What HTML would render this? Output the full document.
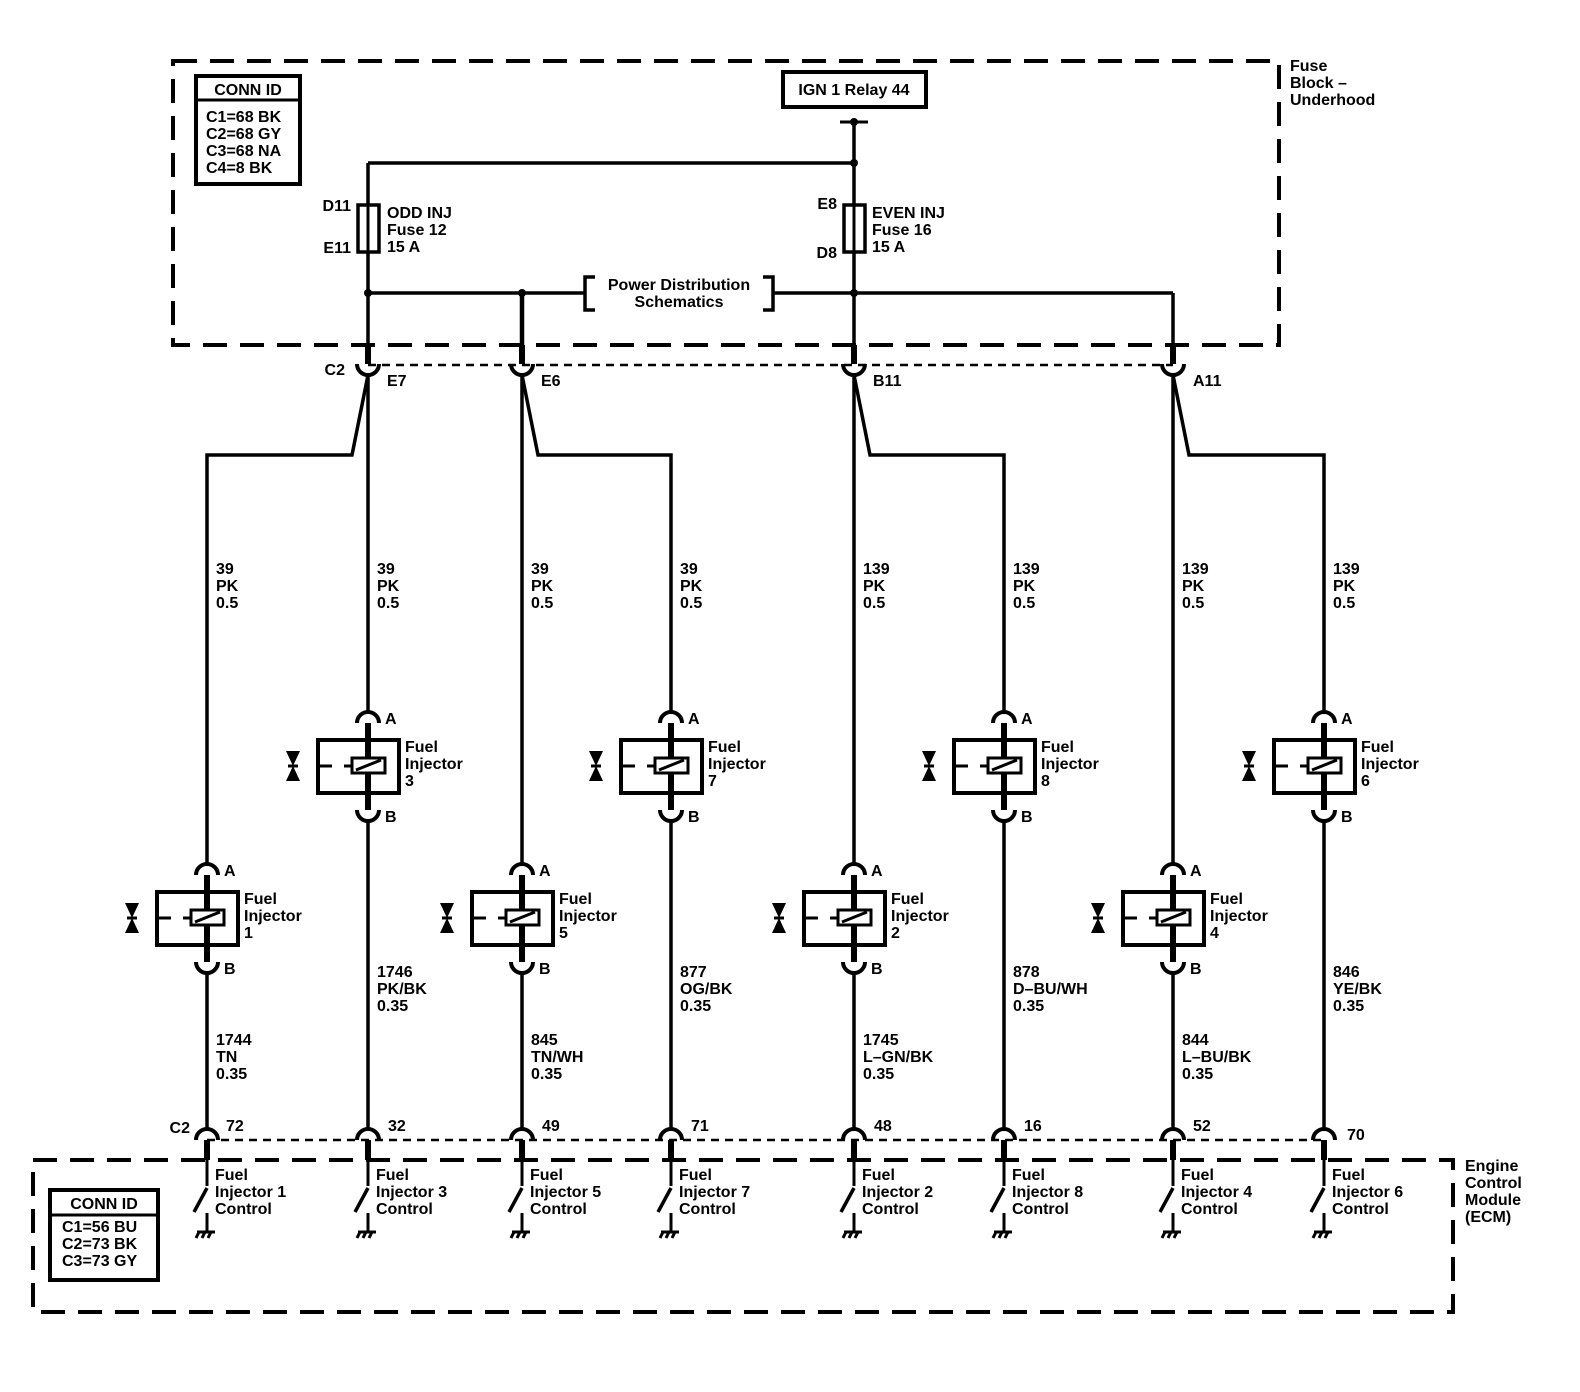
<!DOCTYPE html>
<html><head><meta charset="utf-8"><style>
html,body{margin:0;padding:0;background:#fff}
svg{display:block}
text{font-family:"Liberation Sans",Arial,sans-serif;font-weight:bold;font-size:16px;fill:#000}
</style></head><body>
<svg width="1580" height="1392" viewBox="0 0 1580 1392" xmlns="http://www.w3.org/2000/svg">
<defs>
<g id="inj">
<line x1="0" y1="-17" x2="0" y2="70" stroke="#000" stroke-width="6"/>
<path d="M-11,-17 A11,11 0 0 1 11,-17" fill="none" stroke="#000" stroke-width="4"/>
<rect x="-50" y="0" width="81" height="53" fill="none" stroke="#000" stroke-width="4"/>
<line x1="-50" y1="26" x2="-36" y2="26" stroke="#000" stroke-width="3"/>
<line x1="-24" y1="26" x2="-16" y2="26" stroke="#000" stroke-width="3"/>
<rect x="-16" y="18" width="33" height="15" fill="#fff" stroke="#000" stroke-width="3"/>
<line x1="-12" y1="30" x2="13" y2="20" stroke="#000" stroke-width="3"/>
<polygon points="-82,11 -68,11 -75,26 -68,41 -82,41 -75,26" fill="#000"/>
<line x1="-80" y1="26" x2="-70" y2="26" stroke="#000" stroke-width="3"/>
<path d="M-11,70 A11,11 0 0 0 11,70" fill="none" stroke="#000" stroke-width="4"/>
</g>
<g id="sw">
<path d="M-11,0 A11,11 0 0 1 11,0" fill="none" stroke="#000" stroke-width="4"/>
<line x1="0" y1="0" x2="0" y2="20" stroke="#000" stroke-width="6"/>
<line x1="0" y1="20" x2="0" y2="46" stroke="#000" stroke-width="3"/>
<line x1="0" y1="48" x2="-13" y2="72" stroke="#000" stroke-width="3.5"/>
<line x1="0" y1="73" x2="0" y2="93" stroke="#000" stroke-width="3"/>
<line x1="-10" y1="92" x2="8" y2="92" stroke="#000" stroke-width="3"/>
<line x1="-8" y1="92" x2="-11" y2="98" stroke="#000" stroke-width="3"/>
<line x1="-2" y1="92" x2="-5" y2="98" stroke="#000" stroke-width="3"/>
<line x1="4" y1="92" x2="1" y2="98" stroke="#000" stroke-width="3"/>
</g>
<g id="top">
<line x1="0" y1="345" x2="0" y2="364" stroke="#000" stroke-width="6"/>
<path d="M-11,364 A11,11 0 0 0 11,364" fill="none" stroke="#000" stroke-width="4"/>
</g>
</defs>

<rect x="173" y="61" width="1106" height="284" fill="none" stroke="#000" stroke-width="4" stroke-dasharray="24 13"/>
<rect x="33" y="1160" width="1420" height="152" fill="none" stroke="#000" stroke-width="4" stroke-dasharray="24 13"/>
<line x1="368" y1="365" x2="1173" y2="365" stroke="#000" stroke-width="2.5" stroke-dasharray="8 6"/>
<line x1="207" y1="1140" x2="1324" y2="1140" stroke="#000" stroke-width="2.5" stroke-dasharray="8 6"/>

<rect x="196" y="76" width="104" height="108" fill="none" stroke="#000" stroke-width="4"/>
<line x1="196" y1="100" x2="300" y2="100" stroke="#000" stroke-width="3"/>
<text x="248" y="95" text-anchor="middle">CONN ID</text>
<text x="206" y="122">C1=68 BK</text>
<text x="206" y="139">C2=68 GY</text>
<text x="206" y="156">C3=68 NA</text>
<text x="206" y="173">C4=8 BK</text>

<rect x="50" y="1190" width="108" height="90" fill="none" stroke="#000" stroke-width="4"/>
<line x1="50" y1="1215" x2="158" y2="1215" stroke="#000" stroke-width="3"/>
<text x="104" y="1209" text-anchor="middle">CONN ID</text>
<text x="62" y="1232">C1=56 BU</text>
<text x="62" y="1249">C2=73 BK</text>
<text x="62" y="1266">C3=73 GY</text>

<rect x="783" y="72" width="143" height="35" fill="none" stroke="#000" stroke-width="4"/>
<text x="854" y="95" text-anchor="middle">IGN 1 Relay 44</text>
<line x1="840" y1="122" x2="868" y2="122" stroke="#000" stroke-width="3"/>
<circle cx="854" cy="122" r="4"/>
<line x1="854" y1="122" x2="854" y2="345" stroke="#000" stroke-width="3.5"/>
<line x1="368" y1="163" x2="854" y2="163" stroke="#000" stroke-width="3.5"/>
<circle cx="854" cy="163" r="4"/>
<line x1="368" y1="163" x2="368" y2="345" stroke="#000" stroke-width="3.5"/>

<rect x="358" y="205" width="21" height="47" fill="#fff" stroke="#000" stroke-width="3.5"/>
<line x1="368" y1="205" x2="368" y2="252" stroke="#000" stroke-width="3"/>
<text x="351" y="211" text-anchor="end">D11</text>
<text x="351" y="253" text-anchor="end">E11</text>
<text x="387" y="218">ODD INJ</text>
<text x="387" y="235">Fuse 12</text>
<text x="387" y="252">15 A</text>
<rect x="844" y="205" width="21" height="47" fill="#fff" stroke="#000" stroke-width="3.5"/>
<line x1="854" y1="205" x2="854" y2="252" stroke="#000" stroke-width="3"/>
<text x="837" y="209" text-anchor="end">E8</text>
<text x="837" y="258" text-anchor="end">D8</text>
<text x="872" y="218">EVEN INJ</text>
<text x="872" y="235">Fuse 16</text>
<text x="872" y="252">15 A</text>

<line x1="368" y1="293" x2="585" y2="293" stroke="#000" stroke-width="3.5"/>
<line x1="772" y1="293" x2="1173" y2="293" stroke="#000" stroke-width="3.5"/>
<line x1="1173" y1="293" x2="1173" y2="345" stroke="#000" stroke-width="3.5"/>
<line x1="522" y1="293" x2="522" y2="345" stroke="#000" stroke-width="4.5"/>
<circle cx="368" cy="293" r="4"/><circle cx="522" cy="293" r="4"/><circle cx="854" cy="293" r="4"/>
<path d="M595,277 H585 V310 H595 M763,277 H773 V310 H763" fill="none" stroke="#000" stroke-width="3.5"/>
<text x="679" y="290" text-anchor="middle">Power Distribution</text>
<text x="679" y="307" text-anchor="middle">Schematics</text>
<text x="1290" y="71">Fuse</text>
<text x="1290" y="88">Block –</text>
<text x="1290" y="105">Underhood</text>

<use href="#top" x="368"/><use href="#top" x="522"/><use href="#top" x="854"/><use href="#top" x="1173"/>
<text x="345" y="375" text-anchor="end">C2</text>
<text x="387" y="386">E7</text>
<text x="541" y="386">E6</text>
<text x="873" y="386">B11</text>
<text x="1193" y="386">A11</text>

<g fill="none" stroke="#000" stroke-width="3.5">
<path d="M368,375 L352,455 H207 V864"/>
<path d="M368,375 V712"/>
<path d="M522,375 V864"/>
<path d="M522,375 L538,455 H671 V712"/>
<path d="M854,375 V864"/>
<path d="M854,375 L870,455 H1004 V712"/>
<path d="M1173,375 V864"/>
<path d="M1173,375 L1189,455 H1324 V712"/>
<path d="M368,821 V1129 M671,821 V1129 M1004,821 V1129 M1324,821 V1129"/>
<path d="M207,973 V1129 M522,973 V1129 M854,973 V1129 M1173,973 V1129"/>
</g>

<use href="#inj" x="368" y="740"/><use href="#inj" x="671" y="740"/><use href="#inj" x="1004" y="740"/><use href="#inj" x="1324" y="740"/>
<use href="#inj" x="207" y="892"/><use href="#inj" x="522" y="892"/><use href="#inj" x="854" y="892"/><use href="#inj" x="1173" y="892"/>

<g>
<text x="385" y="724">A</text><text x="385" y="822">B</text>
<text x="405" y="752">Fuel</text><text x="405" y="769">Injector</text><text x="405" y="786">3</text>
<text x="688" y="724">A</text><text x="688" y="822">B</text>
<text x="708" y="752">Fuel</text><text x="708" y="769">Injector</text><text x="708" y="786">7</text>
<text x="1021" y="724">A</text><text x="1021" y="822">B</text>
<text x="1041" y="752">Fuel</text><text x="1041" y="769">Injector</text><text x="1041" y="786">8</text>
<text x="1341" y="724">A</text><text x="1341" y="822">B</text>
<text x="1361" y="752">Fuel</text><text x="1361" y="769">Injector</text><text x="1361" y="786">6</text>

<text x="224" y="876">A</text><text x="224" y="974">B</text>
<text x="244" y="904">Fuel</text><text x="244" y="921">Injector</text><text x="244" y="938">1</text>
<text x="539" y="876">A</text><text x="539" y="974">B</text>
<text x="559" y="904">Fuel</text><text x="559" y="921">Injector</text><text x="559" y="938">5</text>
<text x="871" y="876">A</text><text x="871" y="974">B</text>
<text x="891" y="904">Fuel</text><text x="891" y="921">Injector</text><text x="891" y="938">2</text>
<text x="1190" y="876">A</text><text x="1190" y="974">B</text>
<text x="1210" y="904">Fuel</text><text x="1210" y="921">Injector</text><text x="1210" y="938">4</text>
</g>

<g>
<text x="216" y="574">39</text><text x="216" y="591">PK</text><text x="216" y="608">0.5</text>
<text x="377" y="574">39</text><text x="377" y="591">PK</text><text x="377" y="608">0.5</text>
<text x="531" y="574">39</text><text x="531" y="591">PK</text><text x="531" y="608">0.5</text>
<text x="680" y="574">39</text><text x="680" y="591">PK</text><text x="680" y="608">0.5</text>
<text x="863" y="574">139</text><text x="863" y="591">PK</text><text x="863" y="608">0.5</text>
<text x="1013" y="574">139</text><text x="1013" y="591">PK</text><text x="1013" y="608">0.5</text>
<text x="1182" y="574">139</text><text x="1182" y="591">PK</text><text x="1182" y="608">0.5</text>
<text x="1333" y="574">139</text><text x="1333" y="591">PK</text><text x="1333" y="608">0.5</text>
</g>
<g>
<text x="216" y="1045">1744</text><text x="216" y="1062">TN</text><text x="216" y="1079">0.35</text>
<text x="377" y="977">1746</text><text x="377" y="994">PK/BK</text><text x="377" y="1011">0.35</text>
<text x="531" y="1045">845</text><text x="531" y="1062">TN/WH</text><text x="531" y="1079">0.35</text>
<text x="680" y="977">877</text><text x="680" y="994">OG/BK</text><text x="680" y="1011">0.35</text>
<text x="863" y="1045">1745</text><text x="863" y="1062">L–GN/BK</text><text x="863" y="1079">0.35</text>
<text x="1013" y="977">878</text><text x="1013" y="994">D–BU/WH</text><text x="1013" y="1011">0.35</text>
<text x="1182" y="1045">844</text><text x="1182" y="1062">L–BU/BK</text><text x="1182" y="1079">0.35</text>
<text x="1333" y="977">846</text><text x="1333" y="994">YE/BK</text><text x="1333" y="1011">0.35</text>
</g>

<use href="#sw" x="207" y="1140"/><use href="#sw" x="368" y="1140"/><use href="#sw" x="522" y="1140"/><use href="#sw" x="671" y="1140"/>
<use href="#sw" x="854" y="1140"/><use href="#sw" x="1004" y="1140"/><use href="#sw" x="1173" y="1140"/><use href="#sw" x="1324" y="1140"/>
<text x="190" y="1133" text-anchor="end">C2</text>
<text x="226" y="1131">72</text><text x="388" y="1131">32</text><text x="542" y="1131">49</text><text x="691" y="1131">71</text>
<text x="874" y="1131">48</text><text x="1024" y="1131">16</text><text x="1193" y="1131">52</text><text x="1347" y="1140">70</text>
<g>
<text x="215" y="1180">Fuel</text><text x="215" y="1197">Injector 1</text><text x="215" y="1214">Control</text>
<text x="376" y="1180">Fuel</text><text x="376" y="1197">Injector 3</text><text x="376" y="1214">Control</text>
<text x="530" y="1180">Fuel</text><text x="530" y="1197">Injector 5</text><text x="530" y="1214">Control</text>
<text x="679" y="1180">Fuel</text><text x="679" y="1197">Injector 7</text><text x="679" y="1214">Control</text>
<text x="862" y="1180">Fuel</text><text x="862" y="1197">Injector 2</text><text x="862" y="1214">Control</text>
<text x="1012" y="1180">Fuel</text><text x="1012" y="1197">Injector 8</text><text x="1012" y="1214">Control</text>
<text x="1181" y="1180">Fuel</text><text x="1181" y="1197">Injector 4</text><text x="1181" y="1214">Control</text>
<text x="1332" y="1180">Fuel</text><text x="1332" y="1197">Injector 6</text><text x="1332" y="1214">Control</text>
</g>
<text x="1465" y="1171">Engine</text>
<text x="1465" y="1188">Control</text>
<text x="1465" y="1205">Module</text>
<text x="1465" y="1222">(ECM)</text>
</svg>
</body></html>
